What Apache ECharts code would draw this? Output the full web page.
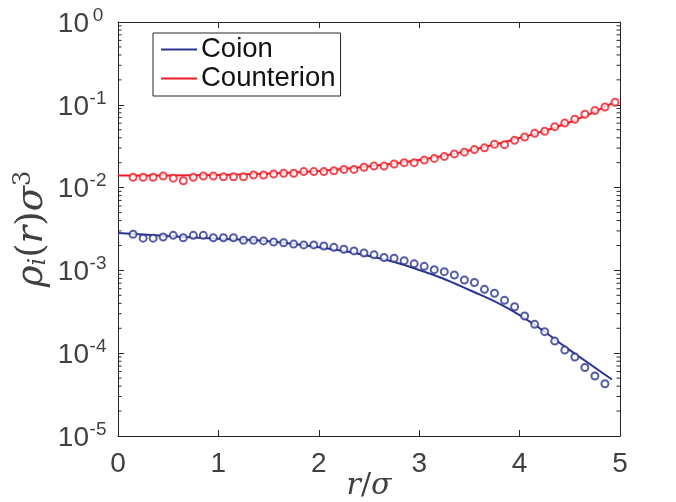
<!DOCTYPE html>
<html>
<head>
<meta charset="utf-8">
<script src="https://cdn.jsdelivr.net/npm/echarts@6/dist/echarts.min.js"></script>
<style>html,body{margin:0;padding:0;background:#fff}#c{width:676px;height:502px}</style>
</head>
<body>
<div id="c"></div>
<script>
// ---- data ----
const rSim = [0.15,0.25,0.35,0.45,0.55,0.65,0.75,0.85,0.95,1.05,1.15,1.25,1.35,1.45,1.55,1.65,1.75,1.85,1.95,2.05,2.15,2.25,2.35,2.45,2.55,2.65,2.75,2.85,2.95,3.05,3.15,3.25,3.35,3.45,3.55,3.65,3.75,3.85,3.95,4.05,4.15,4.25,4.35,4.45,4.55,4.65,4.75,4.85,4.95];
const coionSim = [2.73e-3,2.45e-3,2.45e-3,2.53e-3,2.65e-3,2.48e-3,2.65e-3,2.65e-3,2.48e-3,2.48e-3,2.48e-3,2.31e-3,2.31e-3,2.27e-3,2.20e-3,2.16e-3,2.08e-3,2.03e-3,2.03e-3,1.97e-3,1.90e-3,1.80e-3,1.72e-3,1.62e-3,1.54e-3,1.43e-3,1.40e-3,1.31e-3,1.20e-3,1.12e-3,1.02e-3,9.65e-4,8.80e-4,7.66e-4,7.14e-4,5.91e-4,5.29e-4,4.35e-4,3.64e-4,2.81e-4,2.23e-4,1.82e-4,1.40e-4,1.09e-4,8.99e-5,6.72e-5,5.30e-5,4.28e-5];
const counterSim = [1.33e-2,1.33e-2,1.33e-2,1.38e-2,1.30e-2,1.21e-2,1.33e-2,1.38e-2,1.38e-2,1.35e-2,1.35e-2,1.35e-2,1.42e-2,1.42e-2,1.46e-2,1.49e-2,1.49e-2,1.56e-2,1.56e-2,1.56e-2,1.60e-2,1.66e-2,1.66e-2,1.76e-2,1.82e-2,1.82e-2,1.93e-2,2.00e-2,2.00e-2,2.15e-2,2.25e-2,2.38e-2,2.55e-2,2.68e-2,2.88e-2,3.02e-2,3.34e-2,3.30e-2,3.73e-2,4.08e-2,4.53e-2,4.79e-2,5.44e-2,6.03e-2,6.70e-2,7.68e-2,8.54e-2,9.41e-2,1.075e-1];
const rTheory = [0,0.5,1,1.5,2,2.5,3,3.5,4,4.5,4.92];
const coionTheory = [2.83e-3,2.60e-3,2.41e-3,2.25e-3,1.90e-3,1.49e-3,1.01e-3,5.80e-4,2.89e-4,1.09e-4,4.81e-5];
const counterTheory = [1.40e-2,1.40e-2,1.42e-2,1.48e-2,1.59e-2,1.81e-2,2.15e-2,2.81e-2,3.97e-2,6.15e-2,1.04e-1];
const xTicks = [0,1,2,3,4,5];
const yDecades = [-5,-4,-3,-2,-1,0];
const minorMantissas = [2,3,4,5,6,7,8,9];
const seriesNames = ['Coion','Counterion'];

const BLUE = '#2b3590', RED = '#ee1c25', AX = '#262626', TXT = '#404040';

function pairs(xs, ys){ return ys.map((v,i)=>[xs[i], v]); }
const minorVals = [];
yDecades.slice(0,-1).forEach(d => minorMantissas.forEach(m => minorVals.push([0, m*Math.pow(10,d)])));

const chart = echarts.init(document.getElementById('c'), null, {renderer:'canvas'});
const axBase = {
  axisLine:{show:true, onZero:false, lineStyle:{color:AX, width:1}},
  axisTick:{show:true, inside:true, length:6, lineStyle:{color:AX}},
  splitLine:{show:false}
};
const serifI = {fontFamily:'DejaVu Serif', fontStyle:'italic', fontSize:30, color:TXT};
const serifN = {fontFamily:'DejaVu Serif', fontSize:30, color:TXT};
const ySerifI = {fontFamily:'DejaVu Serif', fontStyle:'italic', fontSize:37, color:TXT};
const ySerifN = {fontFamily:'DejaVu Serif', fontSize:37, color:TXT};
chart.setOption({
  animation:false,
  backgroundColor:'#fff',
  grid:{left:118, right:56, top:22, bottom:66, containLabel:false, outerBoundsMode:'none'},
  legend:{
    data:seriesNames, orient:'vertical', left:153, top:33,
    icon:'rect', itemWidth:36, itemHeight:2, itemGap:0,
    padding:[2,5,3,8], borderColor:AX, borderWidth:1, backgroundColor:'#fff',
    textStyle:{fontFamily:'Liberation Sans', fontSize:27.5, color:'#111', lineHeight:29, padding:[0,0,0,-1]}
  },
  xAxis:[
    Object.assign({}, axBase, {type:'value', min:0, max:5, interval:1, position:'bottom',
      axisLabel:{fontFamily:'Liberation Sans', fontSize:28, color:TXT, margin:14,
        formatter:v=> xTicks.indexOf(v)>=0 ? String(v) : ''},
      name:'{i|r}{n|/}{i|σ}', nameLocation:'middle', nameGap:35, nameMoveOverlap:false,
      nameTextStyle:{rich:{i:serifI, n:serifN}}}),
    Object.assign({}, axBase, {type:'value', min:0, max:5, interval:1, position:'top', axisLabel:{show:false}})
  ],
  yAxis:[
    Object.assign({}, axBase, {type:'log', logBase:10, min:1e-5, max:1, interval:1, position:'left',
      axisLabel:{margin:11, formatter:v=>{const e=Math.round(Math.log10(v)); return '{b|10}{s|'+e+'}';},
        rich:{b:{fontFamily:'Liberation Sans', fontSize:28, color:TXT, verticalAlign:'bottom'},
              s:{fontFamily:'Liberation Sans', fontSize:19, color:TXT, verticalAlign:'top', width:18, align:'left', padding:[0,0,13,0]}}},
      name:'{i|ρ}{sub|i}{n|(}{i|r}{n|)}{i|σ}{sup|3}', nameLocation:'middle', nameGap:66, nameMoveOverlap:false,
      nameTextStyle:{rich:{i:ySerifI, n:ySerifN,
        sub:{fontFamily:'DejaVu Serif', fontStyle:'italic', fontSize:24, color:TXT, padding:[14,0,0,0]},
        sup:{fontFamily:'DejaVu Serif', fontSize:24, color:TXT, padding:[0,0,16,0]}}}}),
    Object.assign({}, axBase, {type:'log', logBase:10, min:1e-5, max:1, interval:1, position:'right', axisLabel:{show:false}})
  ],
  series:[
    {name:seriesNames[0], type:'line', data:pairs(rTheory, coionTheory), smooth:true, showSymbol:false,
      lineStyle:{color:BLUE, width:2}, itemStyle:{color:BLUE}, z:3},
    {name:seriesNames[1], type:'line', data:pairs(rTheory, counterTheory), smooth:true, showSymbol:false,
      lineStyle:{color:RED, width:2}, itemStyle:{color:RED}, z:3},
    {name:'coionSim', type:'scatter', data:pairs(rSim, coionSim), symbol:'emptyCircle', symbolSize:7,
      itemStyle:{color:BLUE, borderColor:BLUE, borderWidth:1.2}, z:4},
    {name:'counterSim', type:'scatter', data:pairs(rSim, counterSim), symbol:'emptyCircle', symbolSize:7,
      itemStyle:{color:RED, borderColor:RED, borderWidth:1.2}, z:4},
    {name:'minorTicks', type:'custom', data:minorVals, silent:true, z:5,
      renderItem:(params, api)=>{
        const v = api.value(1);
        const pl = api.coord([0, v]), pr = api.coord([5, v]);
        return {type:'group', children:[
          {type:'line', shape:{x1:pl[0], y1:pl[1], x2:pl[0]+3.5, y2:pl[1]}, style:{stroke:AX, lineWidth:1}},
          {type:'line', shape:{x1:pr[0], y1:pr[1], x2:pr[0]-3.5, y2:pr[1]}, style:{stroke:AX, lineWidth:1}}
        ]};
      }}
  ]
});
</script>
</body>
</html>
